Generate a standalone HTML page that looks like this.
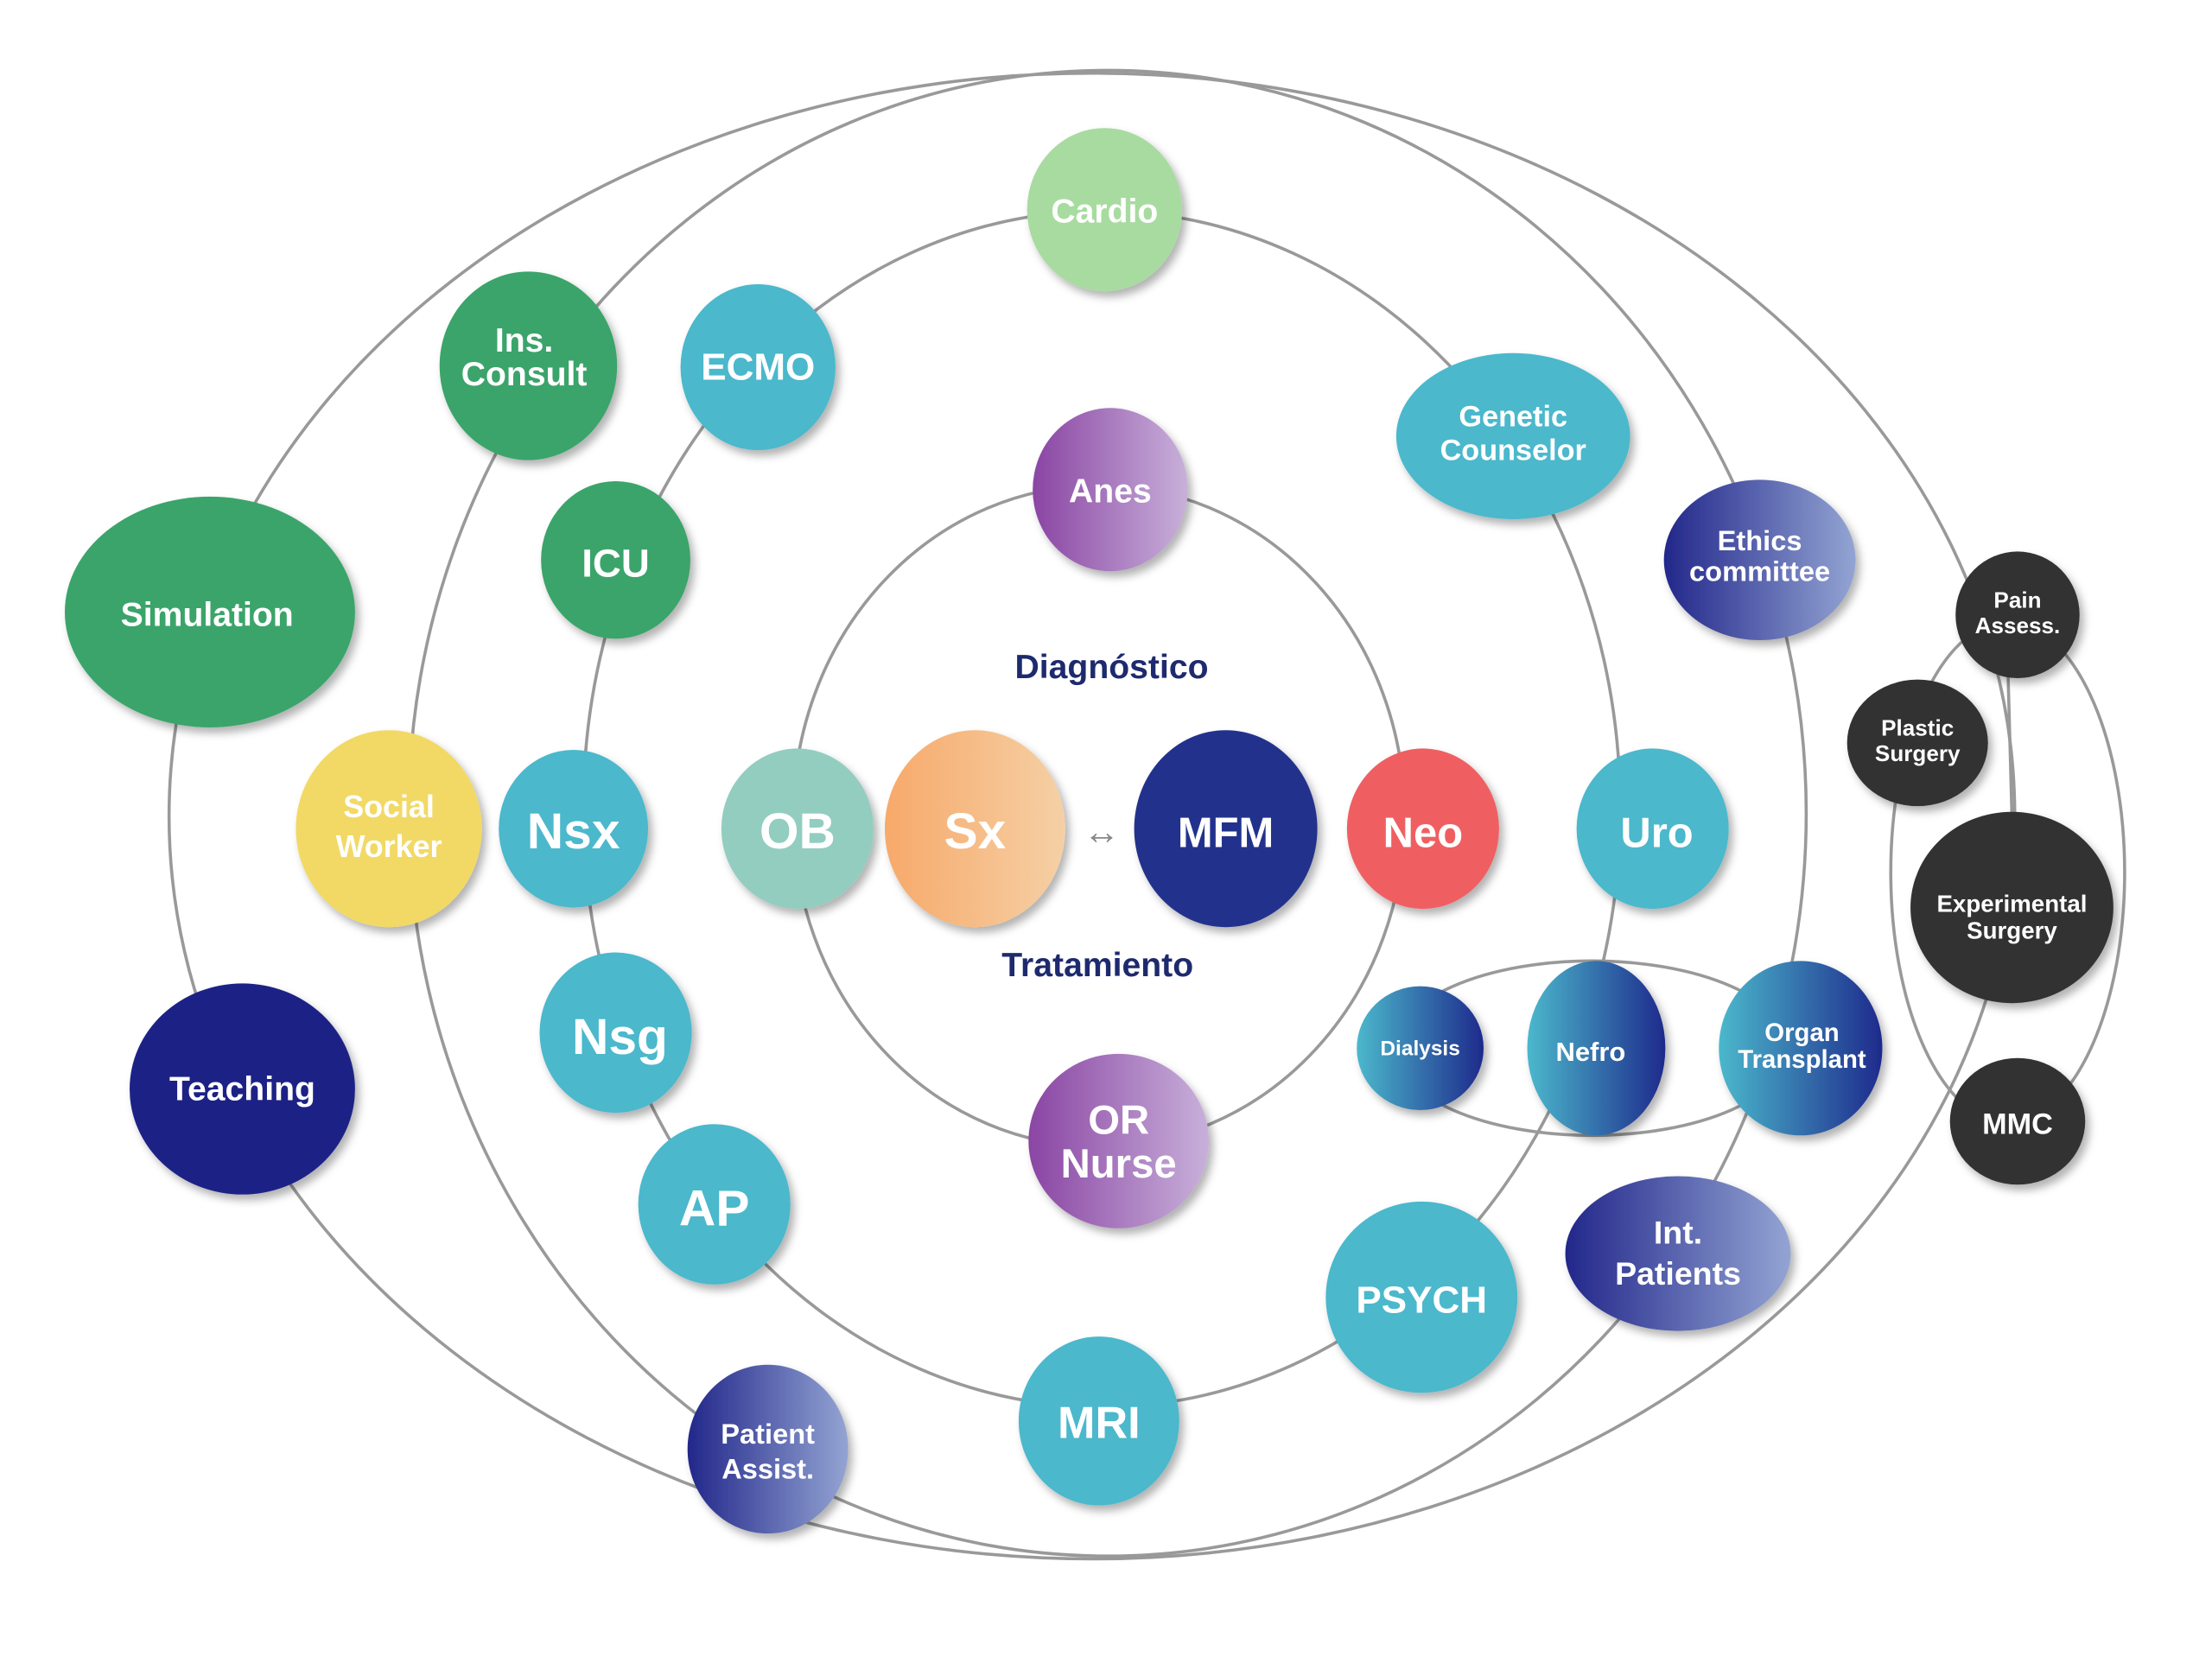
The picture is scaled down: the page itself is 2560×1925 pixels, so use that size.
<!DOCTYPE html>
<html><head><meta charset="utf-8"><style>
html,body{margin:0;padding:0;background:#fff;}
svg{display:block;}
text{font-family:"Liberation Sans",sans-serif;font-weight:bold;fill:#fff;text-anchor:middle;}
</style></head><body>
<svg width="2560" height="1925" viewBox="0 0 1570 1182" preserveAspectRatio="none" xmlns="http://www.w3.org/2000/svg">
<defs>
<linearGradient id="pur" x1="0" x2="1"><stop offset="0" stop-color="#8a45a3"/><stop offset="1" stop-color="#c8b0da"/></linearGradient>
<linearGradient id="nav" x1="0" x2="1"><stop offset="0" stop-color="#22278a"/><stop offset="1" stop-color="#93a4d3"/></linearGradient>
<linearGradient id="kid" x1="0" x2="1"><stop offset="0" stop-color="#4bb8cc"/><stop offset="1" stop-color="#1e2a8c"/></linearGradient>
<linearGradient id="org" x1="0" x2="1"><stop offset="0" stop-color="#f7a96a"/><stop offset="1" stop-color="#f5d0a5"/></linearGradient>
<filter id="sh" x="-20%" y="-20%" width="150%" height="150%"><feDropShadow dx="3" dy="4" stdDeviation="3" flood-color="#000" flood-opacity="0.3"/></filter>
</defs>
<g fill="none" stroke="#999" stroke-width="2.2">
<ellipse cx="780" cy="580" rx="217" ry="235"/>
<ellipse cx="782" cy="575" rx="368" ry="425"/>
<ellipse cx="786" cy="578" rx="496" ry="528"/>
<ellipse cx="775" cy="580" rx="655" ry="528"/>
<ellipse cx="1130" cy="745" rx="140" ry="62"/>
<ellipse cx="1425" cy="620" rx="83" ry="178"/>
<line x1="1425" y1="470" x2="1428" y2="580"/>
</g>
<g filter="url(#sh)">
<ellipse cx="784" cy="149" rx="55" ry="58" fill="#a8dba0"/>
<ellipse cx="375" cy="260" rx="63" ry="67" fill="#3aa46a"/>
<ellipse cx="538" cy="261" rx="55" ry="59" fill="#4bb8cc"/>
<ellipse cx="1074" cy="310" rx="83" ry="59" fill="#4bb8cc"/>
<ellipse cx="788" cy="348" rx="55" ry="58" fill="url(#pur)"/>
<ellipse cx="437" cy="398" rx="53" ry="56" fill="#3aa46a"/>
<ellipse cx="149" cy="435" rx="103" ry="82" fill="#3aa46a"/>
<ellipse cx="1249" cy="398" rx="68" ry="57" fill="url(#nav)"/>
<ellipse cx="1432" cy="437" rx="44" ry="45" fill="#333"/>
<ellipse cx="1361" cy="528" rx="50" ry="45" fill="#333"/>
<ellipse cx="1428" cy="645" rx="72" ry="68" fill="#333"/>
<ellipse cx="1432" cy="797" rx="48" ry="45" fill="#333"/>
<ellipse cx="276" cy="589" rx="66" ry="70" fill="#f2d966"/>
<ellipse cx="407" cy="589" rx="53" ry="56" fill="#4bb8cc"/>
<ellipse cx="566" cy="589" rx="54" ry="57" fill="#92cdc0"/>
<ellipse cx="692" cy="589" rx="64" ry="70" fill="url(#org)"/>
<ellipse cx="870" cy="589" rx="65" ry="70" fill="#22308c"/>
<ellipse cx="1010" cy="589" rx="54" ry="57" fill="#ef5e62"/>
<ellipse cx="1173" cy="589" rx="54" ry="57" fill="#4bb8cc"/>
<ellipse cx="172" cy="774" rx="80" ry="75" fill="#1f2485"/>
<ellipse cx="437" cy="734" rx="54" ry="57" fill="#4bb8cc"/>
<ellipse cx="1008" cy="745" rx="45" ry="44" fill="url(#kid)"/>
<ellipse cx="1133" cy="745" rx="49" ry="62" fill="url(#kid)"/>
<ellipse cx="1278" cy="745" rx="58" ry="62" fill="url(#kid)"/>
<ellipse cx="794" cy="811" rx="64" ry="62" fill="url(#pur)"/>
<ellipse cx="507" cy="856" rx="54" ry="57" fill="#4bb8cc"/>
<ellipse cx="1009" cy="922" rx="68" ry="68" fill="#4bb8cc"/>
<ellipse cx="1191" cy="891" rx="80" ry="55" fill="url(#nav)"/>
<ellipse cx="780" cy="1010" rx="57" ry="60" fill="#4bb8cc"/>
<ellipse cx="545" cy="1030" rx="57" ry="60" fill="url(#nav)"/>
</g>
<g font-size="24">
<text x="784" y="158">Cardio</text>
<text x="372" y="250">Ins.</text><text x="372" y="274">Consult</text>
<text x="538" y="270" font-size="27">ECMO</text>
<text x="1074" y="303" font-size="21">Genetic</text><text x="1074" y="327" font-size="21">Counselor</text>
<text x="788" y="357">Anes</text>
<text x="437" y="410" font-size="28">ICU</text>
<text x="147" y="445">Simulation</text>
<text x="1249" y="391" font-size="20">Ethics</text><text x="1249" y="413" font-size="20">committee</text>
<text x="1432" y="432" font-size="16">Pain</text><text x="1432" y="450" font-size="16">Assess.</text>
<text x="1361" y="523" font-size="16">Plastic</text><text x="1361" y="541" font-size="16">Surgery</text>
<text x="1428" y="648" font-size="17">Experimental</text><text x="1428" y="667" font-size="17">Surgery</text>
<text x="1432" y="806" font-size="21">MMC</text>
<text x="276" y="581" font-size="22">Social</text><text x="276" y="609" font-size="22">Worker</text>
<text x="407" y="603" font-size="36">Nsx</text>
<text x="566" y="603" font-size="36">OB</text>
<text x="692" y="603" font-size="36">Sx</text>
<text x="870" y="602" font-size="30">MFM</text>
<text x="1010" y="602" font-size="30">Neo</text>
<text x="1176" y="602" font-size="30">Uro</text>
<text x="782" y="600" font-size="26" style="fill:#888;font-weight:normal">↔</text>
<text x="789" y="482" style="fill:#1e2a6e">Diagnóstico</text>
<text x="779" y="694" style="fill:#1e2a6e">Tratamiento</text>
<text x="172" y="782">Teaching</text>
<text x="440" y="749" font-size="36">Nsg</text>
<text x="1008" y="750" font-size="15">Dialysis</text>
<text x="1129" y="754" font-size="19">Nefro</text>
<text x="1279" y="740" font-size="18">Organ</text><text x="1279" y="759" font-size="18">Transplant</text>
<text x="794" y="806" font-size="29">OR</text><text x="794" y="837" font-size="29">Nurse</text>
<text x="507" y="871" font-size="36">AP</text>
<text x="1009" y="933" font-size="27">PSYCH</text>
<text x="1191" y="884" font-size="23">Int.</text><text x="1191" y="913" font-size="23">Patients</text>
<text x="780" y="1022" font-size="32">MRI</text>
<text x="545" y="1026" font-size="20">Patient</text><text x="545" y="1051" font-size="20">Assist.</text>
</g>
</svg>
</body></html>
